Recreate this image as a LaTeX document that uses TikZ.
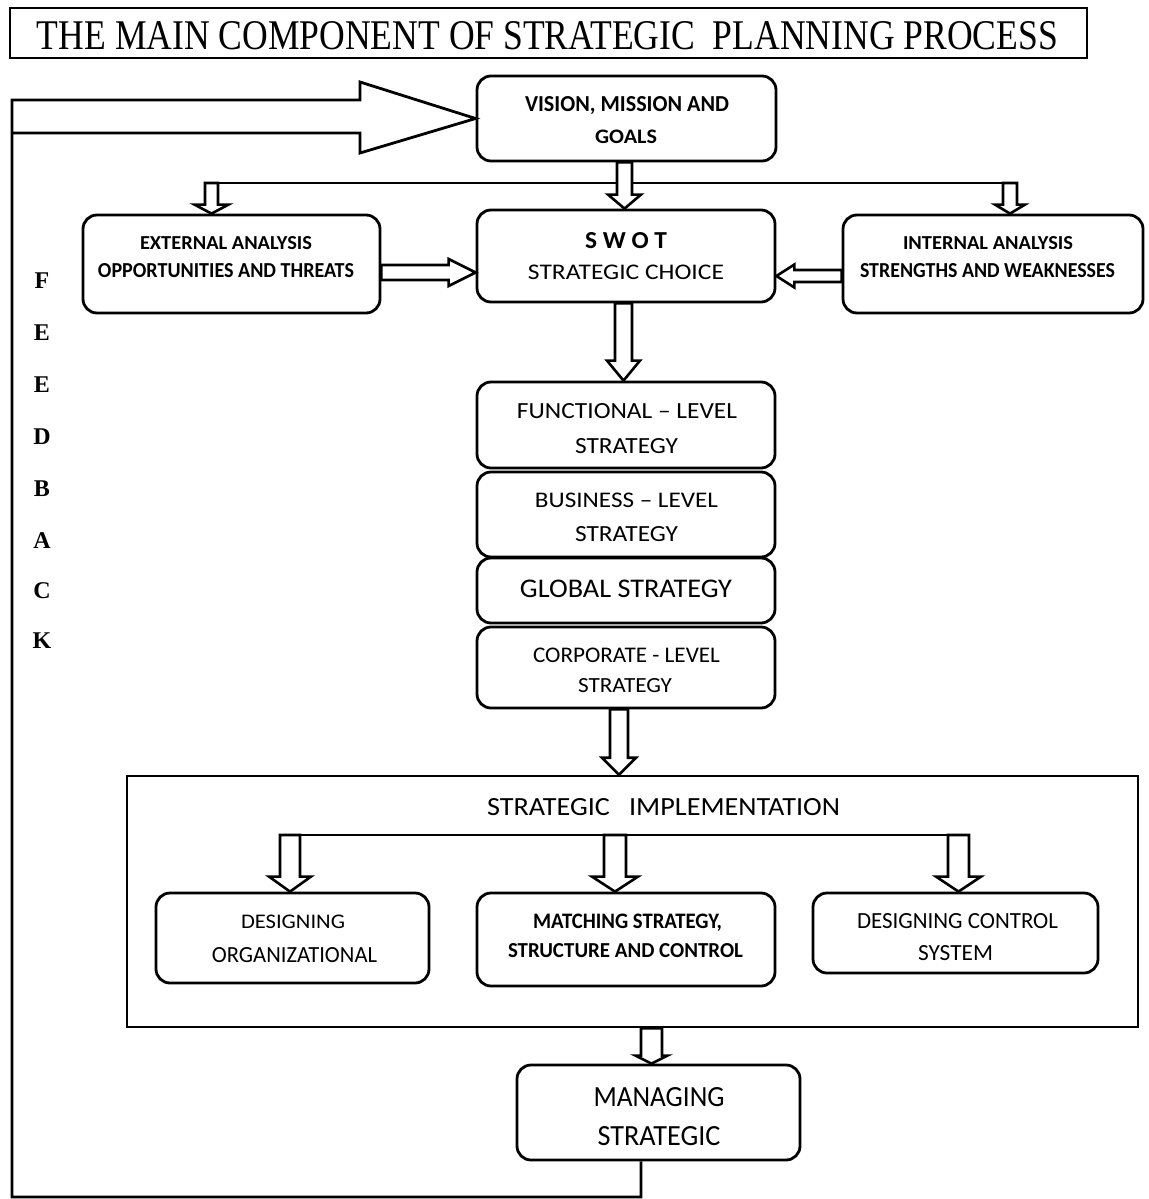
\documentclass[tikz,border=0pt]{standalone}
\usepackage{fontspec}
\usepackage{graphicx}
\setmainfont{Carlito}
\newfontfamily\tnr{Liberation Serif}
\usetikzlibrary{calc,fit}
\newdimen\pxu \pxu=0.5pt
\newcommand\fitt[3]{\resizebox{#1\pxu}{#2\pxu}{#3}}
% down arrow: start, end, half shaft, half head, head length
\newcommand\darr[5]{%
  \draw[blk] ($(#1)+(-#3,0)$) -- ($(#1 |- #2)+(-#3,-#5)$) -- ($(#1 |- #2)+(-#4,-#5)$) -- (#1 |- #2) -- ($(#1 |- #2)+(#4,-#5)$) -- ($(#1 |- #2)+(#3,-#5)$) -- ($(#1)+(#3,0)$) -- cycle;}
% right arrow
\newcommand\rarr[5]{%
  \draw[blk] ($(#1)+(0,-#3)$) -- ($(#2 |- #1)+(-#5,-#3)$) -- ($(#2 |- #1)+(-#5,-#4)$) -- (#2 |- #1) -- ($(#2 |- #1)+(-#5,#4)$) -- ($(#2 |- #1)+(-#5,#3)$) -- ($(#1)+(0,#3)$) -- cycle;}
% left arrow
\newcommand\larr[5]{%
  \draw[blk] ($(#1)+(0,-#3)$) -- ($(#2 |- #1)+(#5,-#3)$) -- ($(#2 |- #1)+(#5,-#4)$) -- (#2 |- #1) -- ($(#2 |- #1)+(#5,#4)$) -- ($(#2 |- #1)+(#5,#3)$) -- ($(#1)+(0,#3)$) -- cycle;}
\begin{document}
\begin{tikzpicture}[x=0.5pt,y=-0.5pt,
  line/.style={draw,line width=1.4pt},
  box/.style={draw,line width=1.4pt,rounded corners=7pt,inner sep=0pt},
  sqbox/.style={draw,line width=1.3pt,inner sep=0pt},
  blk/.style={draw,fill=white,line width=1.3pt,line join=miter},
  lbl/.style={inner sep=0pt,anchor=base},
  fb/.style={inner sep=0pt,anchor=base,font=\tnr\bfseries\fontsize{12pt}{13pt}\selectfont}]
\useasboundingbox (0,0) rectangle (1148,1199);

% title
\node[sqbox,fit={(10,8) (1087,58)}] (titlebox) {};
\node[lbl] (title) at (547.5,49) {\fitt{1021}{28}{\tnr THE MAIN COMPONENT OF STRATEGIC\ \ PLANNING PROCESS}};

% boxes
\node[box,fit={(477,76) (776,161)}] (vision) {};
\node[box,fit={(83,215) (380,313)}] (ext) {};
\node[box,fit={(477,210) (775,302)}] (swot) {};
\node[box,fit={(843,215) (1143,313)}] (int) {};
\node[box,fit={(477,382) (775,468)}] (func) {};
\node[box,fit={(477,472) (775,557)}] (bus) {};
\node[box,fit={(477,558) (775,623)}] (glob) {};
\node[box,fit={(477,627) (775,708)}] (corp) {};
\node[sqbox,fit={(127,776) (1138,1027)}] (impl) {};
\node[box,fit={(156,893) (429,983)}] (dorg) {};
\node[box,fit={(477,893) (775,986)}] (match) {};
\node[box,fit={(813,893) (1098,973)}] (dctrl) {};
\node[box,fit={(517,1065) (800,1160)}] (manage) {};

% texts
\node[lbl] (tv1) at (627,112) {\fitt{204}{15}{\bfseries VISION, MISSION AND}};
\node[lbl] (tv2) at (626,143) {\fitt{62}{13.5}{\bfseries GOALS}};
\node[lbl] (te1) at (226,249) {\fitt{172}{13}{\bfseries EXTERNAL ANALYSIS}};
\node[lbl] (te2) at (226,277) {\fitt{256}{14}{\bfseries OPPORTUNITIES AND THREATS}};
\node[lbl] (ti1) at (988,249) {\fitt{170}{13}{\bfseries INTERNAL ANALYSIS}};
\node[lbl] (ti2) at (987.5,277) {\fitt{255}{14}{\bfseries STRENGTHS AND WEAKNESSES}};
\node[lbl] (ts1) at (626,248) {\fitt{82}{16}{\bfseries S W O T}};
\node[lbl] (ts2) at (626,279) {\fitt{196}{14.5}{STRATEGIC CHOICE}};
\node[lbl] (tf1) at (627,418) {\fitt{220}{15}{FUNCTIONAL – LEVEL}};
\node[lbl] (tf2) at (626.5,453) {\fitt{103}{15}{STRATEGY}};
\node[lbl] (tb1) at (626.5,507) {\fitt{183}{14.5}{BUSINESS – LEVEL}};
\node[lbl] (tb2) at (626.5,541) {\fitt{103}{15}{STRATEGY}};
\node[lbl] (tg1) at (626,597) {\fitt{212}{17.5}{GLOBAL STRATEGY}};
\node[lbl] (tc1) at (626.5,662) {\fitt{187}{14.5}{CORPORATE - LEVEL}};
\node[lbl] (tc2) at (625,692) {\fitt{94}{14}{STRATEGY}};
\node[lbl] (tim) at (663.5,815) {\fitt{353}{17}{STRATEGIC\ \ \ IMPLEMENTATION}};
\node[lbl] (td1) at (293,928) {\fitt{104}{13.5}{DESIGNING}};
\node[lbl] (td2) at (294.5,962) {\fitt{165}{15}{ORGANIZATIONAL}};
\node[lbl] (tm1) at (627.5,928) {\fitt{189}{14.5}{\bfseries MATCHING STRATEGY,}};
\node[lbl] (tm2) at (625.5,957) {\fitt{235}{14}{\bfseries STRUCTURE AND CONTROL}};
\node[lbl] (tk1) at (957.5,928) {\fitt{201}{15}{DESIGNING CONTROL}};
\node[lbl] (tk2) at (955.5,960) {\fitt{75}{15}{SYSTEM}};
\node[lbl] (tg2) at (659,1106) {\fitt{131}{19}{MANAGING}};
\node[lbl] (tg3) at (659,1145) {\fitt{123}{19}{STRATEGIC}};

% FEEDBACK letters
\node[fb] (f1) at (42,288) {F};
\node[fb] (f2) at (42,340) {E};
\node[fb] (f3) at (42,392) {E};
\node[fb] (f4) at (42,444) {D};
\node[fb] (f5) at (42,496) {B};
\node[fb] (f6) at (42,548) {A};
\node[fb] (f7) at (42,598) {C};
\node[fb] (f8) at (42,648) {K};

% feedback path with big hollow arrow into vision
\coordinate (fb0) at ($(manage.south)+(-17.5,0)$);
\coordinate (fbB) at (12,1197);
\draw[line,line join=miter] (fb0) -- (fb0 |- fbB) -- (fbB) -- (12,100) -- (360,100) -- (360,82) -- (vision.west) -- (360,153) -- (360,133) -- (12,133);

% top distribution line
\coordinate (a2) at (211.5,183);
\coordinate (a3) at (1010,183);
\draw[line] ($(a2)+(-6.5,0)$) -- ($(a3)+(7,0)$);
\coordinate (a1) at ($(vision.south)+(-2,0)$);
\darr{a1}{swot.north}{7.5}{16.5}{14}
\darr{a2}{ext.north}{6.5}{17}{9}
\darr{a3}{int.north}{7}{15}{9}

% side arrows into SWOT
\coordinate (a5) at ($(ext.east)+(0,8.5)$);
\rarr{a5}{swot.west}{7.5}{13.5}{27}
\coordinate (a6) at ($(int.west)+(0,12)$);
\larr{a6}{swot.east}{6}{11.5}{18}

% SWOT to functional
\coordinate (a7) at ($(swot.south)+(-2.5,0)$);
\darr{a7}{func.north}{8.5}{16.5}{20}

% corporate to implementation
\coordinate (a8) at ($(corp.south)+(-7,0)$);
\darr{a8}{impl.north}{9}{17}{17}

% implementation distribution
\coordinate (a10) at (290,835);
\coordinate (a11) at (615,835);
\coordinate (a12) at (958.5,835);
\draw[line] ($(a10)+(-10,0)$) -- ($(a12)+(10.5,0)$);
\darr{a10}{dorg.north}{10}{21}{15}
\darr{a11}{match.north}{11}{23}{15}
\darr{a12}{dctrl.north}{10.5}{22.5}{15}

% implementation to managing
\coordinate (a13) at ($(impl.south)+(19,0)$);
\darr{a13}{manage.north}{10.5}{16}{8}
\end{tikzpicture}
\end{document}
